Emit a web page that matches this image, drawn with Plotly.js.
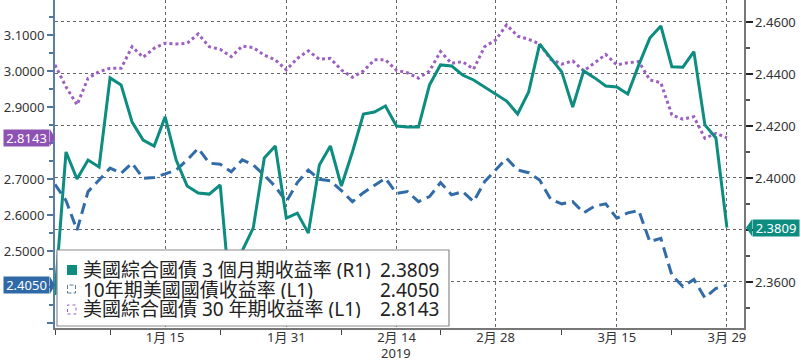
<!DOCTYPE html>
<html>
<head>
<meta charset="utf-8">
<script src="https://cdn.plot.ly/plotly-3.0.1.min.js"></script>
<style>
html,body{margin:0;padding:0;background:#fff;}
#chart{width:801px;height:362px;}
</style>
</head>
<body>
<div id="chart"></div>
<script>
// Business days shown on the chart
const dates = ['2018-12-31','2019-01-02','2019-01-03','2019-01-04','2019-01-07','2019-01-08','2019-01-09','2019-01-10','2019-01-11','2019-01-14',
'2019-01-15','2019-01-16','2019-01-17','2019-01-18','2019-01-22','2019-01-23','2019-01-24','2019-01-25','2019-01-28','2019-01-29',
'2019-01-30','2019-01-31','2019-02-01','2019-02-04','2019-02-05','2019-02-06','2019-02-07','2019-02-08','2019-02-11','2019-02-12',
'2019-02-13','2019-02-14','2019-02-15','2019-02-19','2019-02-20','2019-02-21','2019-02-22','2019-02-25','2019-02-26','2019-02-27',
'2019-02-28','2019-03-01','2019-03-04','2019-03-05','2019-03-06','2019-03-07','2019-03-08','2019-03-11','2019-03-12','2019-03-13',
'2019-03-14','2019-03-15','2019-03-18','2019-03-19','2019-03-20','2019-03-21','2019-03-22','2019-03-25','2019-03-26','2019-03-27',
'2019-03-28','2019-03-29'];

// 美國綜合國債 3 個月期收益率 (R1) - right axis
const bill3m = [2.355,2.410,2.3996,2.4069,2.4042,2.4385,2.4358,2.4215,2.4146,2.4123,
2.4235,2.4069,2.3969,2.3942,2.3938,2.3973,2.350,2.372,2.3808,2.4077,
2.4123,2.3846,2.3865,2.3788,2.405,2.4123,2.3969,2.41,2.4246,2.4254,
2.4277,2.42,2.4196,2.4196,2.4358,2.4435,2.4431,2.4396,2.4377,2.435,
2.4323,2.4296,2.4246,2.4331,2.4515,2.4462,2.4408,2.4273,2.4412,2.4385,
2.4354,2.435,2.4323,2.4435,2.4538,2.4585,2.4428,2.4426,2.4486,2.4204,
2.4154,2.3809];

// 10年期美國國債收益率 (L1)
const note10y = [2.685,2.64,2.558,2.665,2.697,2.73,2.716,2.744,2.702,2.704,
2.714,2.725,2.753,2.785,2.744,2.741,2.72,2.753,2.739,2.711,
2.679,2.637,2.69,2.725,2.699,2.695,2.668,2.637,2.662,2.683,
2.702,2.66,2.665,2.637,2.651,2.69,2.656,2.665,2.637,2.6925,
2.725,2.7575,2.725,2.7175,2.697,2.644,2.631,2.637,2.606,2.625,
2.631,2.591,2.606,2.612,2.526,2.535,2.433,2.401,2.421,2.37,
2.396,2.405];

// 美國綜合國債 30 年期收益率 (L1)
const bond30y = [3.017,2.956,2.906,2.98,2.998,3.0075,3.0075,3.0675,3.038,3.063,
3.077,3.075,3.077,3.103,3.0675,3.06,3.04,3.069,3.065,3.044,
3.031,3.003,3.035,3.056,3.0325,3.035,3.003,2.9825,3.0,3.031,
3.031,3.002,2.995,2.98,3.0,3.054,3.021,3.026,3.005,3.0675,
3.086,3.128,3.097,3.088,3.075,3.0325,3.019,3.028,3.0,3.023,
3.046,3.017,3.023,3.026,2.975,2.9675,2.878,2.866,2.873,2.813,
2.827,2.8143];

const seriesNames = ['美國綜合國債 3 個月期收益率 (R1)','10年期美國國債收益率 (L1)','美國綜合國債 30 年期收益率 (L1)'];
const lastLabels = ['2.3809','2.4050','2.8143'];

const labelDates = ['2019-01-15','2019-01-31','2019-02-14','2019-02-28','2019-03-15','2019-03-29'];
const labelTexts = ['1月 15','1月 31','2月 14','2月 28','3月 15','3月 29'];
const yearLabel = '2019';
const yearLabelDate = '2019-02-14';
const minorDates = ['2018-12-31','2019-01-08','2019-01-23','2019-02-07','2019-02-21','2019-03-08','2019-03-22'];

const leftTicks = [2.3,2.4,2.5,2.6,2.7,2.8,2.9,3.0,3.1];
const leftTickText = ['','','2.5000','2.6000','2.7000','','2.9000','3.0000','3.1000'];
const rightTicks = [2.36,2.38,2.40,2.42,2.44,2.46];
const rightTickText = ['2.3600','','2.4000','2.4200','2.4400','2.4600'];

const TEAL = '#0d8c80', BLUE = '#326ca8', PURPLE = '#9d60c0';
const BLUEBOX = '#2f6aa6', PURPLEBOX = '#8e52b5';

const xi = dates.map((d,i)=>i);
const idx = d => dates.indexOf(d);

const traces = [
  {x: xi, y: note10y, type:'scatter', mode:'lines', yaxis:'y', line:{color:BLUE, width:3, dash:'11px,6px'}, hoverinfo:'none'},
  {x: xi, y: bond30y, type:'scatter', mode:'lines', yaxis:'y', line:{color:PURPLE, width:3, dash:'dot'}, hoverinfo:'none'},
  {x: xi, y: bill3m, type:'scatter', mode:'lines', yaxis:'y2', line:{color:TEAL, width:3}, hoverinfo:'none'}
];

const FONT = 'Noto Sans, Noto Sans CJK TC, sans-serif';

// plot area pixel helpers (for legend/box placement only)
const L = 55, R = 57, T = 0, B = 34, W = 801, H = 362;
const pw = W - L - R, ph = H - T - B;
const px = v => (v - L) / pw;
const py = v => (H - B - v) / ph;

const shapes = [
  // legend box
  {type:'rect', xref:'paper', yref:'paper', x0:px(57), x1:px(449), y0:py(326), y1:py(250), fillcolor:'#fff', line:{color:'#8a8a8a', width:1.2}, layer:'above'},
  // legend symbols
  {type:'rect', xref:'paper', yref:'paper', x0:px(67), x1:px(77), y0:py(275), y1:py(265), fillcolor:TEAL, line:{width:0}, layer:'above'},
  {type:'rect', xref:'paper', yref:'paper', x0:px(67.5), x1:px(75.5), y0:py(293), y1:py(285), fillcolor:'rgba(0,0,0,0)', line:{color:'#5a7aa0', width:1, dash:'4px,2px'}, layer:'above'},
  {type:'rect', xref:'paper', yref:'paper', x0:px(67.5), x1:px(76), y0:py(314), y1:py(305), fillcolor:'rgba(0,0,0,0)', line:{color:PURPLE, width:1, dash:'dot'}, layer:'above'},
  // pointer triangles of last-value boxes
  {type:'path', xref:'paper', xsizemode:'pixel', xanchor:0, yref:'y', ysizemode:'pixel', yanchor:bond30y[bond30y.length-1], path:'M-5,8.5 L0,0 L-5,-8.5 Z', fillcolor:PURPLEBOX, line:{width:0}, layer:'above'},
  {type:'path', xref:'paper', xsizemode:'pixel', xanchor:0, yref:'y', ysizemode:'pixel', yanchor:note10y[note10y.length-1], path:'M-5,8.5 L0,0 L-5,-8.5 Z', fillcolor:BLUEBOX, line:{width:0}, layer:'above'},
  {type:'path', xref:'paper', xsizemode:'pixel', xanchor:1, yref:'y2', ysizemode:'pixel', yanchor:bill3m[bill3m.length-1], path:'M8,8.5 L2,0 L8,-8.5 Z', fillcolor:TEAL, line:{width:0}, layer:'above'}
];

const legendRows = [269.5, 289, 308.5];
const annotations = [];
seriesNames.forEach((n,i)=>{
  annotations.push({xref:'paper', yref:'paper', x:px(81), y:py(legendRows[i]), xanchor:'left', yanchor:'middle',
    text:n, showarrow:false, height:19, valign:'middle', font:{family:FONT, size:19, color:'#222'}});
  annotations.push({xref:'paper', yref:'paper', x:px(441), y:py(legendRows[i]), xanchor:'right', yanchor:'middle',
    text:lastLabels[i], showarrow:false, height:19, valign:'middle', font:{family:FONT, size:19, color:'#222'}});
});
annotations.push({xref:'paper', yref:'y', x:px(50), y:bond30y[bond30y.length-1], xanchor:'right', yanchor:'middle',
  text:lastLabels[2], showarrow:false, bgcolor:PURPLEBOX, width:45, height:16, borderpad:0, font:{family:FONT, size:13, color:'#fff'}});
annotations.push({xref:'paper', yref:'y', x:px(50), y:note10y[note10y.length-1], xanchor:'right', yanchor:'middle',
  text:lastLabels[1], showarrow:false, bgcolor:BLUEBOX, width:45, height:16, borderpad:0, font:{family:FONT, size:13, color:'#fff'}});
annotations.push({xref:'paper', yref:'y2', x:px(752), y:bill3m[bill3m.length-1], xanchor:'left', yanchor:'middle',
  text:lastLabels[0], showarrow:false, bgcolor:TEAL, width:46, height:16, borderpad:0, font:{family:FONT, size:13, color:'#fff'}});
// year under the Feb 14 tick
annotations.push({xref:'x', yref:'paper', x:idx(yearLabelDate), y:py(352), xanchor:'center', yanchor:'middle',
  text:yearLabel, showarrow:false, height:15, font:{family:FONT, size:13, color:'#333'}});

const layout = {
  width: W, height: H,
  margin:{l:L, r:R, t:T, b:B, pad:0},
  paper_bgcolor:'#fff', plot_bgcolor:'#fff',
  showlegend:false,
  font:{family:FONT, size:13, color:'#333'},
  xaxis:{
    type:'linear', range:[0, 62.55], fixedrange:true,
    tickmode:'array', tickvals: labelDates.map(idx), ticktext: labelTexts,
    ticks:'', ticklen:0, ticklabelstandoff:-3, showgrid:true, gridcolor:'#666', griddash:'dot', gridwidth:1,
    minor:{tickmode:'array', tickvals: minorDates.map(idx), ticks:'outside', ticklen:5, tickcolor:'#444', showgrid:false},
    showline:true, linecolor:'#777', linewidth:1.5, mirror:false, zeroline:false,
    tickfont:{family:FONT, size:13, color:'#333'}
  },
  yaxis:{
    range:[2.2861, 3.1972], fixedrange:true,
    tickmode:'array', tickvals:leftTicks, ticktext:leftTickText,
    ticks:'outside', ticklen:6, tickwidth:2, tickcolor:'#4f74a0',
    minor:{dtick:0.05, tick0:0, ticks:'outside', ticklen:4, tickcolor:'#4f74a0', showgrid:false},
    showgrid:false, zeroline:false,
    showline:true, linecolor:'#5b7ea6', linewidth:2,
    tickfont:{family:FONT, size:13, color:'#333'}
  },
  yaxis2:{
    overlaying:'y', side:'right', anchor:'x',
    range:[2.3423, 2.46846], fixedrange:true,
    tickmode:'array', tickvals:rightTicks, ticktext:rightTickText,
    ticks:'outside', ticklen:7, tickwidth:2, tickcolor:'#222',
    minor:{dtick:0.01, tick0:0, ticks:'outside', ticklen:4, tickcolor:'#555', showgrid:false},
    showgrid:true, gridcolor:'#666', griddash:'dot', gridwidth:1,
    zeroline:false, showline:true, linecolor:'#777', linewidth:1.5,
    tickfont:{family:FONT, size:13, color:'#333'}
  },
  shapes: shapes,
  annotations: annotations
};

Plotly.newPlot('chart', traces, layout, {staticPlot:true, displayModeBar:false});
</script>
</body>
</html>
